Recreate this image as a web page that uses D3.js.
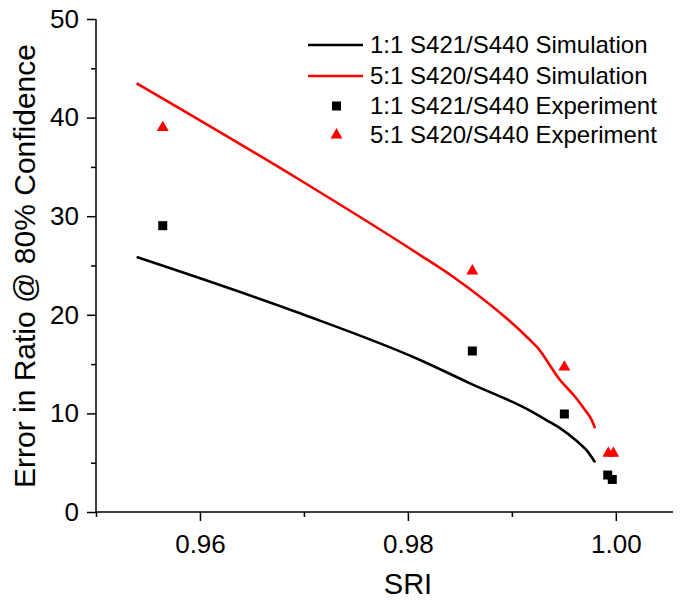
<!DOCTYPE html>
<html><head><meta charset="utf-8">
<script src="https://cdn.jsdelivr.net/npm/d3@7"></script>
<style>body{margin:0;background:#fff}svg{display:block}text{font-family:"Liberation Sans",Arial,sans-serif;fill:#000}</style>
</head><body>
<script>
// Data
const seriesNames = ["1:1 S421/S440 Simulation","5:1 S420/S440 Simulation","1:1 S421/S440 Experiment","5:1 S420/S440 Experiment"];
const simBlackX = [0.95391,0.96962,0.98117,0.98597,0.99143,0.99335,0.99463,0.99624,0.99720,0.99800];
const simBlackY = [25.86,20.15,15.42,13.05,10.45,9.30,8.50,7.20,6.25,5.05];
const simRedX = [0.95391,0.96962,0.98117,0.98434,0.99175,0.99239,0.99463,0.99608,0.99704,0.99768,0.99800];
const simRedY = [43.48,33.67,26.06,23.86,17.44,16.76,13.39,11.69,10.34,9.33,8.49];
const expBlackX = [0.95642,0.98620,0.99505,0.99922,0.99966];
const expBlackY = [29.04,16.33,9.94,3.75,3.30];
const expRedX = [0.95642,0.98620,0.99505,0.99928,0.99976];
const expRedY = [38.98,24.44,14.70,5.95,5.95];
const xMajorTicks = [0.96,0.98,1.00];
const xMinorTicks = [0.95,0.97,0.99];
const yMajorTicks = [0,10,20,30,40,50];
const yMinorTicks = [5,15,25,35,45];
const xTitle = "SRI";
const yTitle = "Error in Ratio @ 80% Confidence";

const W=681,H=606;
const svg=d3.select("body").append("svg").attr("width",W).attr("height",H);
const x=d3.scaleLinear().domain([0.95,1.0055]).range([96,673]);
const y=d3.scaleLinear().domain([0,50]).range([512,19]);

// axes
const xAxisMajor=d3.axisBottom(x).tickValues(xMajorTicks).tickSize(9).tickPadding(14).tickFormat(d3.format(".2f"));
const xAxisMinor=d3.axisBottom(x).tickValues(xMinorTicks).tickSize(5).tickFormat("");
const yAxisMajor=d3.axisLeft(y).tickValues(yMajorTicks).tickSize(9).tickPadding(8).tickFormat(d3.format("d"));
const yAxisMinor=d3.axisLeft(y).tickValues(yMinorTicks).tickSize(5).tickFormat("");

function styleAxis(g){
  g.selectAll("path,line").attr("stroke","#000").attr("stroke-width",1.5);
  g.selectAll("text").style("font-size","26px").attr("fill","#000");
}
const gx=svg.append("g").attr("transform","translate(0,512)").call(xAxisMajor).call(styleAxis);
gx.select(".domain").attr("d","M96,0H673");
svg.append("g").attr("transform","translate(0,512)").call(xAxisMinor).call(styleAxis).select(".domain").remove();
const gy=svg.append("g").attr("transform","translate(96,0)").call(yAxisMajor).call(styleAxis);
gy.select(".domain").attr("d","M0,19V512");
svg.append("g").attr("transform","translate(96,0)").call(yAxisMinor).call(styleAxis).select(".domain").remove();
gx.selectAll(".tick text").attr("dy","0.71em");

// titles
svg.append("text").attr("x",408).attr("y",594).attr("text-anchor","middle").style("font-size","29px").text(xTitle);
svg.append("text").attr("transform","translate(35,266) rotate(-90)").attr("text-anchor","middle").style("font-size","30px").text(yTitle);

// lines
const line=d3.line().curve(d3.curveMonotoneX).x(d=>x(d[0])).y(d=>y(d[1]));
svg.append("path").datum(d3.zip(simBlackX,simBlackY)).attr("d",line).attr("fill","none").attr("stroke","#000").attr("stroke-width",2.6).attr("stroke-linejoin","round");
svg.append("path").datum(d3.zip(simRedX,simRedY)).attr("d",line).attr("fill","none").attr("stroke","#ff0000").attr("stroke-width",2.6).attr("stroke-linejoin","round");

// markers
const sq=d3.symbol().type(d3.symbolSquare).size(81);
const tri=d3.symbol().type(d3.symbolTriangle).size(62);
svg.append("g").selectAll("path").data(d3.zip(expBlackX,expBlackY)).join("path")
  .attr("d",sq).attr("transform",d=>`translate(${x(d[0])},${y(d[1])})`).attr("fill","#000");
svg.append("g").selectAll("path").data(d3.zip(expRedX,expRedY)).join("path")
  .attr("d",tri).attr("transform",d=>`translate(${x(d[0])},${y(d[1])})`).attr("fill","#ff0000");

// legend
const legRows=[45,76,106,135];
const lg=svg.append("g");
lg.append("line").attr("x1",308).attr("x2",363).attr("y1",legRows[0]).attr("y2",legRows[0]).attr("stroke","#000").attr("stroke-width",2.6);
lg.append("line").attr("x1",308).attr("x2",363).attr("y1",legRows[1]).attr("y2",legRows[1]).attr("stroke","#ff0000").attr("stroke-width",2.6);
lg.append("path").attr("d",sq).attr("transform",`translate(336.5,${legRows[2]})`).attr("fill","#000");
lg.append("path").attr("d",tri).attr("transform",`translate(336.5,${legRows[3]})`).attr("fill","#ff0000");
seriesNames.forEach((s,i)=>{
  lg.append("text").attr("x",370).attr("y",legRows[i]).attr("dy","0.35em").style("font-size","24px").text(s);
});
</script>
</body></html>
